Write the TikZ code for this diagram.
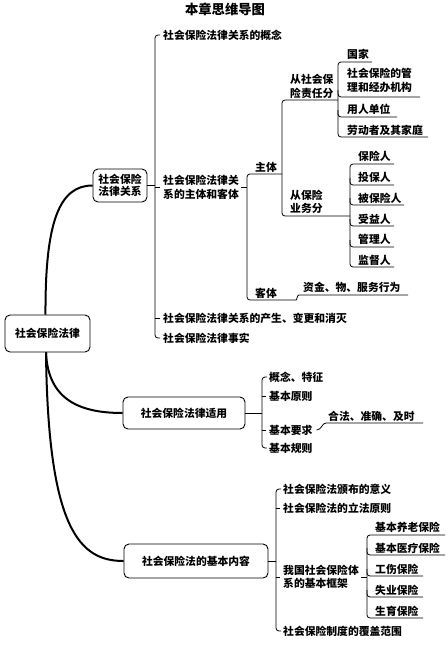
\documentclass[tikz,border=0pt]{standalone}
\usepackage{fontspec}
\setmainfont{Noto Sans CJK SC}
\begin{document}
\begin{tikzpicture}[x=1pt,y=-1pt,
  txt/.style={anchor=west,inner sep=0pt,font=\fontsize{10.8}{13.5}\selectfont\bfseries,align=left},
  bx/.style={draw,rounded corners=5pt,line width=0.9pt,inner sep=0pt,align=center,font=\fontsize{10.8}{11.5}\selectfont\bfseries},
  ln/.style={line width=0.8pt,rounded corners=3pt},
  thk/.style={line width=2pt}]
\useasboundingbox (0,0) rectangle (447,645);
% title
\node[font=\fontsize{13.3}{16}\selectfont\bfseries] (title) at (225,9) {本章思维导图};
% boxes
\node[bx,minimum width=85pt,minimum height=37pt] (root) at (47.5,333.5) {社会保险法律};
\node[bx,minimum width=54pt,minimum height=33pt] (b1) at (120,185.5) {社会保险\\法律关系};
\node[bx,minimum width=122pt,minimum height=32pt] (b2) at (184,413) {社会保险法律适用};
\node[bx,minimum width=144pt,minimum height=34pt] (b3) at (196,561) {社会保险法的基本内容};
% main curves
\draw[thk] ([xshift=-2pt]root.north) .. controls (45,220) and (60,185.5) .. (b1.west);
\draw[thk] ([xshift=-1.5pt]root.south) .. controls (48,400) and (80,413) .. (b2.west);
\draw[thk] ([xshift=-1.5pt]root.south) .. controls (48,530) and (80,561) .. (b3.west);
% level 2 under b1
\node[txt] (a1) at (163,35) {社会保险法律关系的概念};
\node[txt] (a2) at (163,187.5) {社会保险法律关\\系的主体和客体};
\node[txt] (a3) at (163,318) {社会保险法律关系的产生、变更和消灭};
\node[txt] (a4) at (163,338) {社会保险法律事实};
\draw[ln] (b1.east) -- (155,185.5);
\draw[ln] (160,35) -- (155,35) -- (155,338) -- (160,338);
\draw[ln] (155,187.5) -- (160,187.5);
\draw[ln] (155,318) -- (160,318);
% subject / object
\node[txt] (zt) at (255,167) {主体};
\node[txt] (kt) at (255,293) {客体};
\node[txt] (zj) at (303,287) {资金、物、服务行为};
\draw[ln] ([xshift=2pt]a2.east) -- (247,187.5);
\draw[ln] (282,174) -- (247,174) -- (247,300) -- (293,300) .. controls (297,300) and (297,295) .. (302,295) -- (408,295);
% subject split
\node[txt] (zr) at (290,86.5) {从社会保\\险责任分};
\node[txt] (yw) at (290,202) {从保险\\业务分};
\draw[ln] (338,100) -- (282,100) -- (282,216) -- (350,216);
% by responsibility
\node[txt] (gj) at (347,54) {国家};
\node[txt] (gl) at (347,80.5) {社会保险的管\\理和经办机构};
\node[txt] (yr) at (347,109.5) {用人单位};
\node[txt] (ld) at (347,130) {劳动者及其家庭};
\draw[ln] (372,62) -- (338,62) -- (338,137) -- (428,137);
\draw[ln] (338,90) -- (338,97) -- (420,97);
\draw[ln] (338,110) -- (338,117) -- (397,117);
% by business
\node[txt] (p1) at (358,156) {保险人};
\node[txt] (p2) at (358,177) {投保人};
\node[txt] (p3) at (358,198) {被保险人};
\node[txt] (p4) at (358,219) {受益人};
\node[txt] (p5) at (358,239) {管理人};
\node[txt] (p6) at (358,260) {监督人};
\draw[ln] (394,164) -- (350,164) -- (350,267) -- (394,267);
\draw[ln] (350,178) -- (350,185) -- (394,185);
\draw[ln] (350,198) -- (350,205) -- (404,205);
\draw[ln] (350,219) -- (350,226) -- (394,226);
\draw[ln] (350,240) -- (350,247) -- (394,247);
% b2 branch
\node[txt] (gn) at (269,377) {概念、特征};
\node[txt] (yz) at (269,396) {基本原则};
\node[txt] (yq) at (269,430) {基本要求};
\node[txt] (gz) at (269,448) {基本规则};
\node[txt] (hf) at (328,416) {合法、准确、及时};
\draw[ln] (b2.east) -- (262,413);
\draw[ln] (267,377) -- (262,377) -- (262,448) -- (267,448);
\draw[ln] (262,396) -- (266,396);
\draw[ln] (262,430) -- (266,430);
\draw[line width=0.8pt] ([xshift=4pt]yq.east) .. controls +(5,0) and +(-4,0) .. (326,423) -- (423,423);
% b3 branch
\node[txt] (yy) at (283,489) {社会保险法颁布的意义};
\node[txt] (lf) at (283,508) {社会保险法的立法原则};
\node[txt] (wg) at (283,577) {我国社会保险体\\系的基本框架};
\node[txt] (fg) at (283,631) {社会保险制度的覆盖范围};
\draw[ln] (b3.east) -- (276,561);
\draw[ln] (281,489) -- (276,489) -- (276,631) -- (281,631);
\draw[ln] (276,508) -- (280,508);
\draw[ln] (276,577) -- (280,577);
\draw[ln] ([xshift=2pt]wg.east) -- (367,577);
\node[txt] (q1) at (375,527) {基本养老保险};
\node[txt] (q2) at (375,548) {基本医疗保险};
\node[txt] (q3) at (375,569) {工伤保险};
\node[txt] (q4) at (375,590) {失业保险};
\node[txt] (q5) at (375,611) {生育保险};
\draw[ln] (445,535) -- (367,535) -- (367,618) -- (423,618);
\draw[ln] (367,548) -- (367,555) -- (445,555);
\draw[ln] (367,569) -- (367,576) -- (423,576);
\draw[ln] (367,590) -- (367,597) -- (423,597);
\end{tikzpicture}
\end{document}
